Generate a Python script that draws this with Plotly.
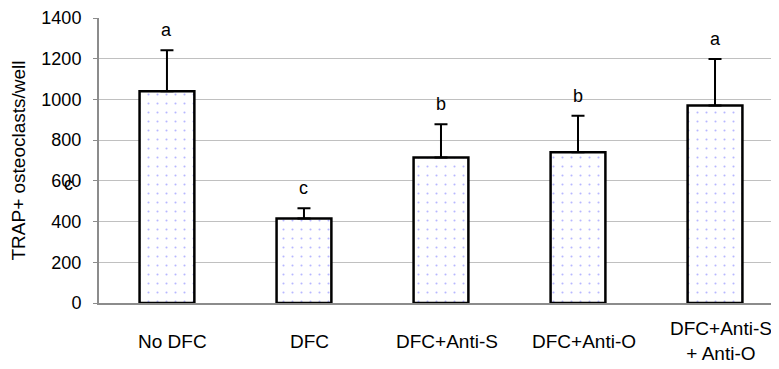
import plotly.graph_objects as go

categories = ["No DFC", "DFC", "DFC+Anti-S", "DFC+Anti-O", "DFC+Anti-S<br>+ Anti-O"]
means = [1040, 415, 715, 740, 970]
errors = [202, 50, 163, 180, 228]
letters = ["a", "c", "b", "b", "a"]
y_ticks = [0, 200, 400, 600, 800, 1000, 1200, 1400]

FONT = "Liberation Sans, Arial, sans-serif"
xpos = list(range(len(categories)))

# page body has an 8px margin; layout compensates for it
W, H = 771, 361
ML, MT, MB, MR = 91, 10, 66, 0
PH = H - MT - MB  # 285
PW = W - ML - MR  # 680

fig = go.Figure()
fig.add_trace(go.Bar(
    x=xpos, y=means, width=0.4,
    marker=dict(color="white", line=dict(color="black", width=2.5),
                pattern=dict(shape=".", fgcolor="#7070ff", bgcolor="white",
                             size=9, solidity=0.045)),
    error_y=dict(type="data", array=errors, arrayminus=[0] * len(errors),
                 symmetric=False, color="black", thickness=2, width=6.5),
    showlegend=False, hoverinfo="skip",
))

annotations = []
for i, (m, e, l) in enumerate(zip(means, errors, letters)):
    annotations.append(dict(x=i, y=m + e, xref="x", yref="y", text=l,
                            showarrow=False, yanchor="middle", yshift=20,
                            font=dict(family=FONT, size=18, color="black")))
for i, c in enumerate(categories):
    annotations.append(dict(x=i, y=0, xref="x", yref="paper", text=c,
                            showarrow=False, yanchor="middle", yshift=-38, xshift=6,
                            font=dict(family=FONT, size=19, color="black")))
# stray letter overlapping the 600 tick label in the original
annotations.append(dict(x=-31 / PW, y=119 / PH, xref="paper", yref="paper", text="c",
                        showarrow=False, xanchor="center", yanchor="middle",
                        font=dict(family=FONT, size=18, color="black")))

fig.update_layout(
    width=W, height=H,
    margin=dict(l=ML, r=MR, t=MT, b=MB, pad=0),
    paper_bgcolor="white", plot_bgcolor="white",
    font=dict(family=FONT, color="black"),
    xaxis=dict(range=[-0.496, 4.467], showticklabels=False, showgrid=False,
               zeroline=False, showline=True, linecolor="#8c8c8c", linewidth=2,
               ticks=""),
    yaxis=dict(range=[0, 1400], tickvals=y_ticks, showgrid=True,
               gridcolor="#c0c0c0", gridwidth=1, zeroline=False,
               showline=True, linecolor="#8c8c8c", linewidth=2,
               ticks="outside", ticklen=4, tickcolor="#8c8c8c",
               ticklabelstandoff=8,
               tickfont=dict(family=FONT, size=18, color="black"),
               title=dict(text="TRAP+ osteoclasts/well", standoff=13,
                          font=dict(family=FONT, size=19, color="black"))),
    annotations=annotations,
)

fig.write_html("out.html")
